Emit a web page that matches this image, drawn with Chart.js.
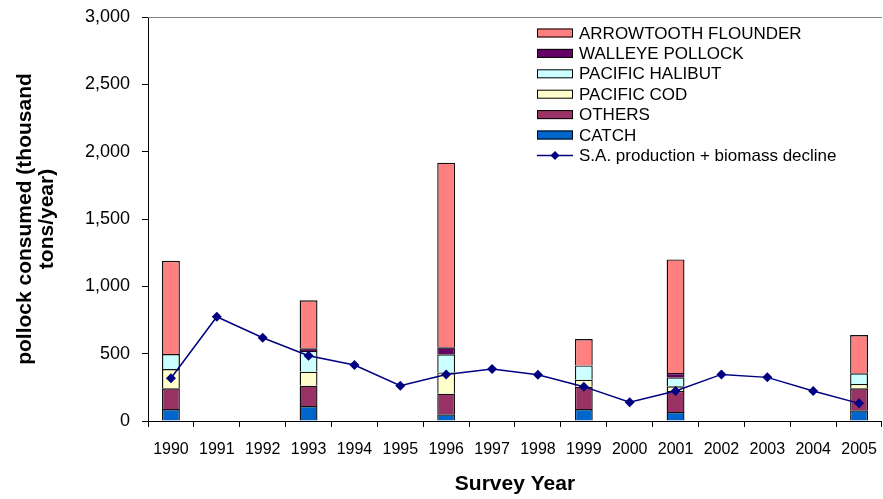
<!DOCTYPE html>
<html>
<head>
<meta charset="utf-8">
<title>Pollock consumed</title>
<script src="https://cdn.jsdelivr.net/npm/chart.js@4"></script>
<style>
  html, body { margin: 0; padding: 0; background: #fff; overflow: hidden; }
  #wrap { width: 883px; height: 499px; overflow: hidden; }
</style>
</head>
<body>
<div id="wrap"><canvas id="chart" width="890" height="499"></canvas></div>
<script>
// survey years
const years = ['1990','1991','1992','1993','1994','1995','1996','1997','1998','1999','2000','2001','2002','2003','2004','2005'];

// stacked consumption (thousand t), only survey years have bars
const catchVals      = [89, null, null, 111, null, null, 50, null, null, 89, null, 67, null, null, null, 79];
const othersVals     = [154, null, null, 151, null, null, 153, null, null, 166, null, 156, null, null, null, 164];
const pacificCodVals = [143, null, null, 104, null, null, 158, null, null, 52, null, 35, null, null, null, 32];
const halibutVals    = [111, null, null, 154, null, null, 134, null, null, 106, null, 66, null, null, null, 79];
const walleyeVals    = [0, null, null, 20, null, null, 52, null, null, 0, null, 32, null, null, null, 0];
const arrowtoothVals = [693, null, null, 356, null, null, 1371, null, null, 196, null, 844, null, null, null, 284];

// S.A. production + biomass decline
const saProduction = [317, 774, 618, 485, 416, 262, 346, 386, 344, 255, 139, 223, 346, 324, 223, 131];

const yTicks = [0, 500, 1000, 1500, 2000, 2500, 3000];

const FONT = "'Liberation Sans', Arial, sans-serif";

const bar = (label, data, color) => ({
    type: 'bar',
    label: label,
    data: data,
    backgroundColor: color,
    borderColor: '#111',
    borderWidth: 1.4,
    barPercentage: 0.39,
    categoryPercentage: 1,
    stack: 'prey',
    order: 1
});

// legend drawn inside the plot, top right
const boxLegend = {
    id: 'boxLegend',
    afterDraw(chart) {
        const ctx = chart.ctx;
        const items = chart.data.datasets.filter(d => d.type === 'bar').slice().reverse();
        const line = chart.data.datasets.find(d => d.type === 'line');
        const x0 = 537, y0 = 33, step = 20.4;
        ctx.save();
        ctx.font = '17px ' + FONT;
        ctx.textBaseline = 'middle';
        ctx.fillStyle = '#000';
        items.forEach((d, i) => {
            const y = y0 + i * step;
            ctx.fillStyle = d.backgroundColor;
            ctx.fillRect(x0, y - 4.5, 36, 9);
            ctx.strokeStyle = '#000';
            ctx.lineWidth = 1;
            ctx.strokeRect(x0 + 0.5, y - 4, 35, 8);
            ctx.fillStyle = '#000';
            ctx.fillText(d.label, 579, y + 1);
        });
        const y = y0 + items.length * step;
        ctx.strokeStyle = line.borderColor;
        ctx.lineWidth = 1.5;
        ctx.beginPath();
        ctx.moveTo(x0, y);
        ctx.lineTo(x0 + 36, y);
        ctx.stroke();
        ctx.fillStyle = line.borderColor;
        ctx.beginPath();
        ctx.moveTo(x0 + 18, y - 4.5);
        ctx.lineTo(x0 + 22.5, y);
        ctx.lineTo(x0 + 18, y + 4.5);
        ctx.lineTo(x0 + 13.5, y);
        ctx.closePath();
        ctx.fill();
        ctx.fillStyle = '#000';
        ctx.fillText(line.label, 579, y + 1);
        ctx.restore();
    }
};

// gray top edge of the plot area
const topEdge = {
    id: 'topEdge',
    beforeDatasetsDraw(chart) {
        const {ctx, chartArea} = chart;
        ctx.save();
        ctx.strokeStyle = '#808080';
        ctx.lineWidth = 1;
        ctx.beginPath();
        ctx.moveTo(chartArea.left, Math.round(chartArea.top) + 0.5);
        ctx.lineTo(chartArea.right, Math.round(chartArea.top) + 0.5);
        ctx.stroke();
        ctx.restore();
    }
};

new Chart(document.getElementById('chart'), {
    data: {
        labels: years,
        datasets: [
            {
                type: 'line',
                label: 'S.A. production + biomass decline',
                data: saProduction,
                borderColor: '#000080',
                backgroundColor: '#000080',
                borderWidth: 1.5,
                pointStyle: 'rectRot',
                pointRadius: 5,
                pointBorderWidth: 0,
                tension: 0,
                stack: 'line',
                order: 0
            },
            bar('CATCH', catchVals, '#0066CC'),
            bar('OTHERS', othersVals, '#993366'),
            bar('PACIFIC COD', pacificCodVals, '#FFFFCC'),
            bar('PACIFIC HALIBUT', halibutVals, '#CCFFFF'),
            bar('WALLEYE POLLOCK', walleyeVals, '#660066'),
            bar('ARROWTOOTH FLOUNDER', arrowtoothVals, '#FF8080')
        ]
    },
    options: {
        responsive: false,
        animation: false,
        layout: { padding: { left: 0, right: 2, top: 17, bottom: 0 } },
        plugins: {
            legend: { display: false },
            tooltip: { enabled: false }
        },
        scales: {
            x: {
                stacked: true,
                offset: true,
                grid: { display: true, drawOnChartArea: false, offset: true, tickLength: 6, color: '#000' },
                border: { color: '#000', width: 1 },
                ticks: { color: '#000', font: { family: FONT, size: 16 }, padding: 13, maxRotation: 0, autoSkip: false },
                title: { display: true, text: 'Survey Year', color: '#000', font: { family: FONT, size: 21, weight: 'bold' }, padding: { top: 0, bottom: 2 } },
                afterFit: (scale) => { scale.height = 78; }
            },
            y: {
                stacked: true,
                min: 0,
                max: 3000,
                afterBuildTicks: (scale) => { scale.ticks = yTicks.map(v => ({ value: v })); },
                grid: { display: true, drawOnChartArea: false, tickLength: 6, color: '#000' },
                border: { color: '#000', width: 1 },
                ticks: {
                    color: '#000',
                    font: { family: FONT, size: 18 },
                    padding: 12,
                    callback: (v) => v.toLocaleString('en-US')
                },
                title: {
                    display: true,
                    text: ['pollock consumed (thousand', 'tons/year)'],
                    color: '#000',
                    font: { family: FONT, size: 21, weight: 'bold', lineHeight: 1.05 },
                    padding: { top: 14, bottom: 0 }
                },
                afterFit: (scale) => {
                    scale.width = 148;
                    // let the plot start right at the layout padding
                    scale.paddingTop = 0;
                    scale.paddingBottom = 0;
                }
            }
        }
    },
    plugins: [topEdge, boxLegend]
});
</script>
</body>
</html>
